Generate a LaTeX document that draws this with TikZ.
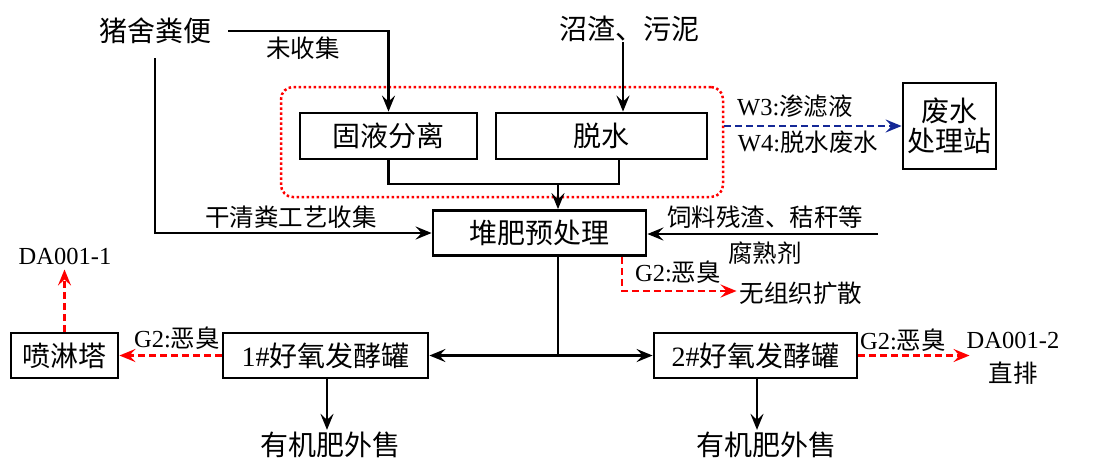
\documentclass[tikz,border=0pt]{standalone}
\usepackage{fontspec}
\setmainfont{Liberation Serif}
\newfontfamily\cjk{Noto Sans CJK SC}
\usetikzlibrary{arrows.meta}
\newcommand{\zh}[1]{{\cjk #1}}
\newcommand{\mainsz}{\fontsize{28}{32}\selectfont}
\newcommand{\lblsz}{\fontsize{24.5}{28}\selectfont}
\definecolor{wblue}{RGB}{20,40,150}
\tikzset{
  box/.style={draw, line width=2.8pt, inner sep=0pt, font=\mainsz},
  big/.style={inner sep=0pt, font=\mainsz},
  lbl/.style={inner sep=0pt, font=\lblsz},
  tip/.style={-{Stealth[length=16pt,width=13pt,inset=6pt]}},
  arr/.style={line width=2.5pt, tip},
  plain/.style={line width=2.5pt},
  redarr/.style={red, line width=2.5pt, dash pattern=on 7pt off 4pt, tip},
  bluearr/.style={wblue, line width=2.5pt, dash pattern=on 7pt off 4pt, tip},
  frame/.style={draw=red, line width=2.5pt, dash pattern=on 2.5pt off 2.5pt, rounded corners=12pt}
}
\begin{document}
\begin{tikzpicture}[x=1pt,y=-1pt]
\useasboundingbox (0,0) rectangle (1105,459);
% boxes
\node[frame, minimum width=442pt, minimum height=110pt] (fr) at (502,142) {};
\node[box, minimum width=177pt, minimum height=46pt] (gy) at (388.5,136) {\zh{固液分离}};
\node[box, minimum width=211pt, minimum height=46pt] (tx) at (601.5,136) {\zh{脱水}};
\node[box, minimum width=213pt, minimum height=45pt] (dfy) at (539.5,233) {\zh{堆肥预处理}};
\node[box, minimum width=93pt, minimum height=86pt, align=center] (wst) at (949.5,126) {\zh{废水}\\[-2pt]\zh{处理站}};
\node[box, minimum width=107pt, minimum height=45pt] (pl) at (64.5,355.5) {\zh{喷淋塔}};
\node[box, minimum width=205pt, minimum height=45pt] (f1) at (325.5,355.5) {1\#\zh{好氧发酵罐}};
\node[box, minimum width=203pt, minimum height=45pt] (f2) at (755.5,355.5) {2\#\zh{好氧发酵罐}};
% texts
\node[big] (zs) at (155,31) {\zh{猪舍粪便}};
\node[big] (zz) at (629,29) {\zh{沼渣、污泥}};
\node[lbl] (wsj) at (303,48) {\zh{未收集}};
\node[lbl] (gqf) at (291,217) {\zh{干清粪工艺收集}};
\node[lbl] (sl) at (765,217) {\zh{饲料残渣、秸秆等}};
\node[lbl] (fsj) at (765,253) {\zh{腐熟剂}};
\node[lbl] (w3) at (795,106) {W3:\zh{渗滤液}};
\node[lbl] (w4) at (808,142) {W4:\zh{脱水废水}};
\node[lbl] (g2a) at (678,272) {G2:\zh{恶臭}};
\node[lbl] (wz) at (801,293) {\zh{无组织扩散}};
\node[lbl] (g2b) at (177,338) {G2:\zh{恶臭}};
\node[lbl] (da1) at (65,256) {DA001-1};
\node[lbl] (g2c) at (903,340) {G2:\zh{恶臭}};
\node[lbl] (da2) at (1013,340) {DA001-2};
\node[lbl] (zp) at (1013,373) {\zh{直排}};
\node[big] (y1) at (330,445) {\zh{有机肥外售}};
\node[big] (y2) at (766,445) {\zh{有机肥外售}};
% connectors
\draw[arr] ([xshift=17pt]zs.east) -| (gy.north);
\draw[arr] ([yshift=-14pt]zs.south) |- (dfy.west);
\draw[arr] ([xshift=-6pt]zz.south) -- ([xshift=-6pt]zz.south |- tx.north);
\coordinate (m) at (558,184);
\draw[plain] (gy.south) |- (m) -| ([xshift=17.5pt]tx.south);
\draw[arr] (m) -- (m |- dfy.north);
\coordinate (slend) at (878,234);
\draw[arr] (slend) -- (slend -| dfy.east);
\draw[bluearr] (fr.east |- wst.west) -- (wst.west);
\draw[redarr] ([xshift=82.5pt]dfy.south) |- ([xshift=-3pt,yshift=2pt]wz.west);
\coordinate (j) at (558,355.5);
\draw[plain] (m |- dfy.south) -- (j);
\draw[arr] (j) -- (f1.east);
\draw[arr] (j) -- (f2.west);
\draw[redarr] (f1.west) -- (pl.east);
\draw[redarr, shorten >=5pt] (pl.north) -- (pl.north |- da1.south);
\draw[redarr] (f2.east) -- ([xshift=3pt]f2.east -| da2.west);
\draw[arr, shorten >=2pt] ([xshift=1.5pt]f1.south) -- ([xshift=1.5pt]f1.south |- y1.north);
\draw[arr, shorten >=2pt] ([xshift=1.5pt]f2.south) -- ([xshift=1.5pt]f2.south |- y2.north);
\end{tikzpicture}
\end{document}
